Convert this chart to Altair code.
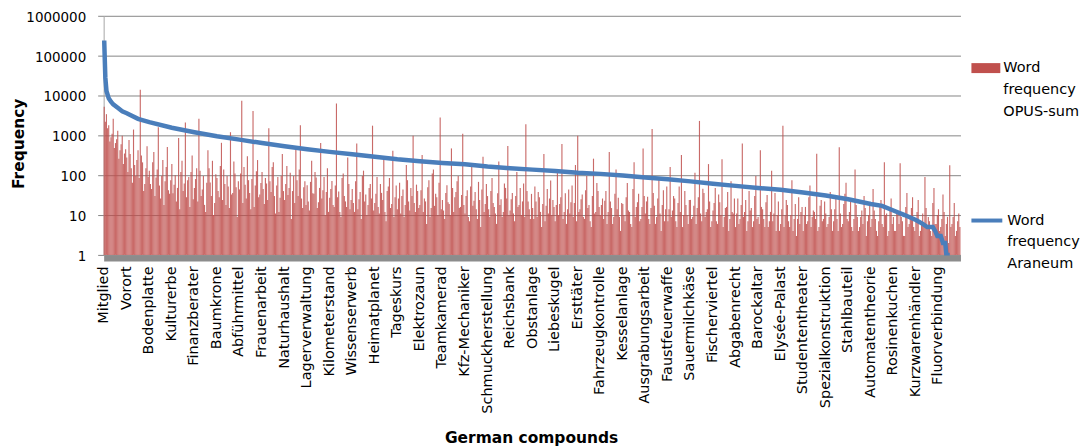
import altair as alt
import pandas as pd

# ---------------- data ----------------
labels = ["Mitglied", "Vorort", "Bodenplatte", "Kulturerbe", "Finanzberater", "Baumkrone",
          "Abführmittel", "Frauenarbeit", "Naturhaushalt", "Lagerverwaltung", "Kilometerstand",
          "Wissenserwerb", "Heimatplanet", "Tageskurs", "Elektrozaun", "Teamkamerad",
          "Kfz-Mechaniker", "Schmuckherstellung", "Reichsbank", "Obstanlage", "Liebeskugel",
          "Ersttäter", "Fahrzeugkontrolle", "Kesselanlage", "Ausgrabungsarbeit", "Faustfeuerwaffe",
          "Sauermilchkäse", "Fischerviertel", "Abgabenrecht", "Barockaltar", "Elysée-Palast",
          "Studententheater", "Spezialkonstruktion", "Stahlbauteil", "Automatentheorie",
          "Rosinenkuchen", "Kurzwarenhändler", "Fluorverbindung"]
step = 20  # one labelled compound every 20 categories

# OPUS-sum frequency, one value per compound (20 compounds per labelled block)
opus_sum = [
    5200, 2200, 3400, 1500, 1800, 700, 900, 1100, 2600, 480, 640, 800, 1300, 260, 420, 600, 980, 190, 350, 450,
    280, 120, 760, 340, 150, 65, 1400, 180, 95, 240, 420, 85, 14000, 310, 210, 40, 60, 150, 530, 90,
    130, 60, 45, 210, 380, 30, 88, 140, 1600, 55, 26, 95, 240, 18, 70, 160, 510, 42, 34, 75,
    190, 35, 58, 100, 22, 48, 860, 14, 120, 230, 40, 62, 2100, 28, 75, 90, 16, 120, 310, 25,
    48, 80, 150, 22, 2600, 130, 30, 44, 95, 18, 12, 65, 420, 150, 66, 30, 230, 10, 20, 105,
    85, 40, 28, 170, 650, 24, 140, 60, 18, 95, 52, 15, 1200, 33, 36, 220, 110, 50, 9, 70,
    44, 110, 7400, 20, 160, 58, 26, 300, 75, 36, 14, 80, 4100, 16, 55, 125, 240, 28, 33, 64,
    120, 45, 19, 85, 62, 24, 1500, 70, 38, 160, 210, 30, 11, 55, 90, 12, 27, 95, 340, 40,
    24, 60, 170, 32, 48, 115, 8, 40, 95, 20, 520, 75, 30, 140, 1800, 26, 15, 50, 70, 18,
    56, 22, 13, 68, 230, 35, 34, 120, 88, 15, 21, 48, 640, 26, 42, 90, 10, 38, 150, 12,
    27, 45, 72, 18, 16, 55, 6300, 28, 39, 12, 9, 85, 110, 30, 22, 16, 280, 60, 14, 24,
    45, 20, 12, 70, 620, 14, 25, 38, 8, 95, 130, 22, 33, 10, 18, 48, 60, 26, 1750, 13,
    20, 34, 90, 16, 11, 60, 36, 24, 240, 12, 7, 40, 52, 85, 15, 19, 410, 9, 28, 55,
    14, 26, 65, 11, 30, 44, 9, 18, 180, 75, 22, 13, 48, 30, 980, 20, 12, 58, 40, 15,
    18, 42, 320, 12, 26, 22, 6, 50, 75, 9, 15, 110, 140, 17, 34, 28, 10, 65, 2800, 14,
    24, 13, 8, 36, 56, 21, 19, 10, 470, 48, 12, 28, 38, 70, 95, 15, 16, 32, 1100, 18,
    11, 30, 42, 9, 7, 52, 160, 17, 23, 38, 14, 8, 68, 24, 5, 44, 290, 12, 19, 60,
    30, 14, 9, 40, 85, 20, 16, 11, 6, 35, 220, 18, 25, 9, 12, 62, 48, 26, 540, 10,
    13, 25, 36, 11, 7, 30, 120, 16, 18, 48, 10, 22, 62, 9, 1900, 40, 22, 14, 8, 34,
    15, 8, 52, 22, 9, 38, 28, 12, 5, 19, 340, 7, 17, 45, 11, 26, 74, 10, 24, 16,
    7, 18, 130, 10, 19, 28, 610, 8, 12, 35, 6, 14, 44, 11, 21, 55, 9, 20, 180, 7,
    980, 12, 14, 25, 33, 9, 8, 42, 96, 15, 18, 7, 5, 30, 260, 11, 12, 64, 40, 16,
    10, 18, 26, 8, 23, 40, 6, 12, 380, 22, 15, 6, 9, 34, 140, 14, 27, 9, 4, 20,
    19, 10, 7, 28, 64, 13, 12, 6, 5, 45, 210, 9, 16, 21, 34, 7, 8, 16, 470, 30,
    11, 22, 29, 8, 6, 15, 1450, 36, 17, 6, 9, 26, 88, 11, 4, 18, 42, 7, 14, 52,
    7, 14, 160, 9, 13, 30, 26, 7, 5, 20, 52, 12, 320, 5, 10, 40, 18, 10, 6, 24,
    24, 8, 9, 17, 115, 6, 15, 28, 2300, 11, 7, 46, 36, 9, 12, 14, 190, 22, 5, 7,
    13, 20, 48, 7, 6, 33, 21, 10, 250, 5, 9, 15, 16, 38, 4, 8, 70, 12, 11, 26,
    5, 11, 26, 6, 8, 18, 620, 9, 12, 24, 4, 7, 40, 13, 15, 5, 7, 30, 95, 8,
    9, 6, 420, 16, 14, 8, 5, 21, 32, 5, 7, 12, 130, 7, 11, 36, 4, 10, 22, 4,
    6, 14, 1750, 5, 10, 24, 18, 7, 5, 10, 75, 4, 8, 19, 3, 8, 28, 6, 12, 16,
    4, 10, 16, 6, 7, 28, 55, 5, 9, 13, 12, 8, 345, 4, 5, 17, 24, 7, 8, 22,
    11, 5, 6, 9, 38, 14, 4, 7, 14, 26, 8, 4, 500, 11, 5, 6, 19, 34, 65, 8,
    7, 12, 22, 5, 4, 8, 140, 18, 9, 4, 5, 9, 13, 6, 30, 15, 3, 7, 10, 20,
    5, 8, 45, 13, 8, 4, 3, 7, 17, 24, 6, 5, 210, 10, 11, 3, 4, 14, 26, 6,
    9, 4, 4, 11, 12, 6, 200, 9, 7, 3, 3, 16, 36, 5, 6, 8, 15, 28, 5, 4,
    8, 12, 24, 3, 4, 7, 11, 5, 90, 15, 5, 9, 7, 4, 3, 20, 48, 6, 6, 10,
    14, 4, 5, 8, 33, 12, 3, 6, 9, 2, 177, 5, 6, 9, 20, 3, 4, 7, 11, 5,
]
assert len(opus_sum) == len(labels) * step

# Araneum frequency (sorted, descending) read at selected compounds
araneum_idx = [0, 1, 2, 4, 6, 8, 12, 16, 20, 30, 40, 60, 80, 100, 120, 140, 160, 180, 200, 220,
               240, 260, 280, 300, 320, 340, 360, 380, 400, 420, 440, 460, 480, 500, 520, 540,
               560, 580, 600, 620, 640, 660, 680, 690, 700, 710, 720, 726, 730, 735, 737, 739,
               742, 744, 746, 747, 750]
araneum_freq = [240000, 28000, 13000, 8500, 7000, 6000, 4900, 4000, 3600, 2600, 2150, 1550, 1200,
                950, 780, 640, 530, 450, 385, 335, 290, 250, 225, 203, 188, 165, 150, 138, 128,
                115, 108, 98, 88, 79, 70, 61, 54, 48, 43, 37, 31, 25, 19, 17, 13, 10, 7.5, 6,
                5, 5, 4, 3, 3, 2, 2, 1, 1]

series_bar = "Word frequency OPUS-sum"
series_line = "Word frequency Araneum"

bar_df = pd.DataFrame({"idx": list(range(len(opus_sum))), "opus": opus_sum, "series": series_bar})
line_df = pd.DataFrame({"idx": araneum_idx, "araneum": araneum_freq, "series": series_line})

# ---------------- styling ----------------
FONT = "DejaVu Sans"
RED = "#C0504D"
BLUE = "#4A7EBB"
GRID = "#868686"

names_js = "[" + ",".join("'" + n + "'" for n in labels) + "]"
x_label_expr = f"datum.value % {step} == 0 ? {names_js}[datum.value / {step}] : ''"

yscale = alt.Scale(type="log", domain=[1, 1000000], nice=False)

x_enc = alt.X(
    "idx:O",
    scale=alt.Scale(paddingInner=0, paddingOuter=0),
    title="German compounds",
    axis=alt.Axis(
        labelExpr=x_label_expr, labelAngle=-90, labelAlign="right", labelBaseline="middle",
        labelOverlap=False, labelPadding=8, labelFontSize=14.5, labelFont=FONT, labelColor="black",
        ticks=False, tickSize=0, domainColor="#8C8C8C", domainWidth=6, offset=3, grid=False,
        titleFont=FONT, titleFontSize=15.5, titleFontWeight="bold", titleColor="black",
        titleX=429, titleY=185, titleBaseline="alphabetic", titleAlign="center", zindex=1,
    ),
)

y_axis = alt.Axis(
    values=[1, 10, 100, 1000, 10000, 100000, 1000000], format="d",
    tickSize=6, tickColor=GRID, domainColor="#A6A6A6", domainWidth=1,
    grid=True, gridColor=GRID, gridWidth=1,
    labelPadding=12, labelFontSize=13.5, labelFont=FONT, labelColor="black", labelOffset=1.5,
    titleFont=FONT, titleFontSize=15.5, titleFontWeight="bold", titleColor="black",
    titleX=-85, titleY=128, titleAlign="center", titleBaseline="middle", titleAngle=270,
)

bars = alt.Chart(bar_df).mark_bar(opacity=0.85, strokeWidth=0).encode(
    x=x_enc,
    y=alt.Y("opus:Q", scale=yscale, axis=y_axis, title="Frequency"),
    y2=alt.datum(1),
    fill=alt.Fill(
        "series:N",
        scale=alt.Scale(domain=[series_bar], range=[RED]),
        legend=alt.Legend(
            title=None, orient="none", legendX=871, legendY=38,
            symbolType="M-1,-0.345L1,-0.345L1,0.345L-1,0.345Z", symbolSize=841,
            symbolOpacity=1, symbolStrokeWidth=0,
            labelExpr="split(datum.label, ' ')",
            labelFont=FONT, labelFontSize=14.5, labelColor="black", labelOffset=3,
            labelLimit=300, padding=0,
        ),
    ),
)

line = alt.Chart(line_df).mark_line(strokeWidth=4.5).encode(
    x=alt.X("idx:O"),
    y=alt.Y("araneum:Q", scale=yscale),
    stroke=alt.Stroke(
        "series:N",
        scale=alt.Scale(domain=[series_line], range=[BLUE]),
        legend=alt.Legend(
            title=None, orient="none", legendX=869, legendY=188,
            symbolType="stroke", symbolSize=961, symbolStrokeWidth=4,
            labelExpr="split(datum.label, ' ')",
            labelFont=FONT, labelFontSize=14.5, labelColor="black", labelOffset=3,
            labelLimit=300, padding=0,
        ),
    ),
)

chart = alt.layer(bars, line).resolve_legend(fill="independent", stroke="independent").properties(
    width=860, height=240,
    padding={"left": 96, "top": 7, "right": 124, "bottom": 196},
    autosize=alt.AutoSizeParams(type="none"),
).configure(
    font=FONT, style={"guide-label": {"lineHeight": 22}}
).configure_view(stroke="transparent")

chart.save("out.html", embed_options={"renderer": "svg", "actions": False})
